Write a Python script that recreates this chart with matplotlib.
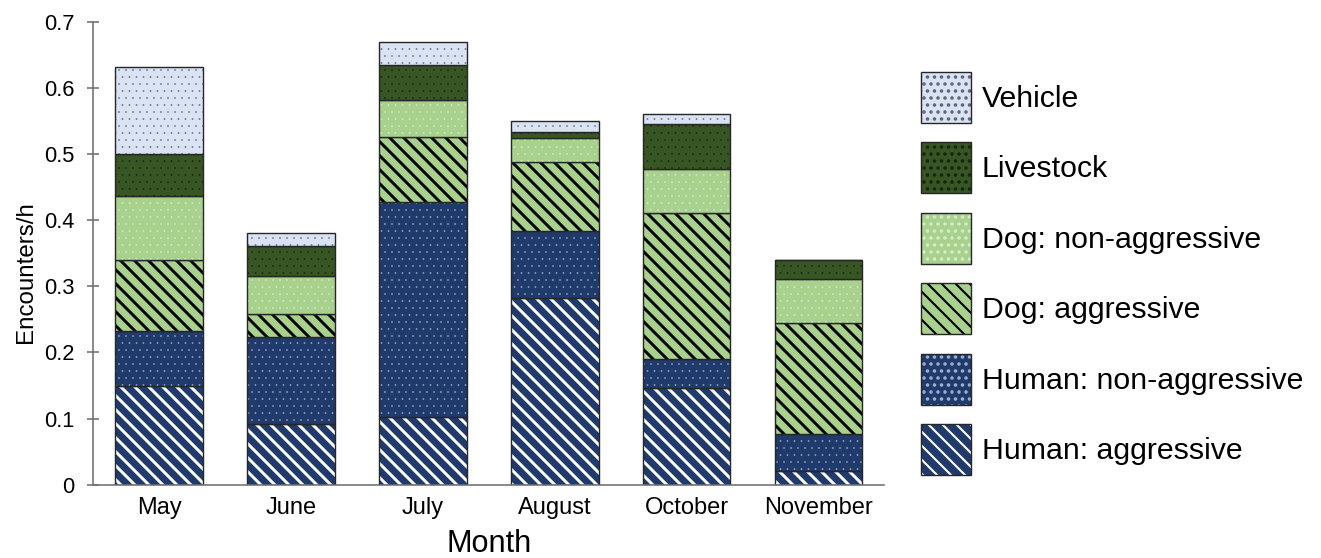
import matplotlib
matplotlib.use("Agg")
import matplotlib.pyplot as plt
import numpy as np
from matplotlib.patches import Patch

plt.rcParams["font.family"] = ["Liberation Sans", "DejaVu Sans"]
plt.rcParams["hatch.linewidth"] = 1.2

months = ["May", "June", "July", "August", "October", "November"]

# encounters per hour (bottom to top)
human_aggressive = [0.149, 0.091, 0.102, 0.282, 0.146, 0.021]
human_non_aggressive = [0.084, 0.133, 0.326, 0.101, 0.044, 0.055]
dog_aggressive = [0.106, 0.034, 0.097, 0.105, 0.221, 0.169]
dog_non_aggressive = [0.097, 0.057, 0.056, 0.036, 0.067, 0.066]
livestock = [0.064, 0.046, 0.054, 0.009, 0.067, 0.029]
vehicle = [0.131, 0.019, 0.035, 0.017, 0.015, 0.0]

NAVY = "#1f3a6b"
LIGHT_GREEN = "#a9d18e"
DARK_GREEN = "#375623"
PALE_BLUE = "#dae3f3"

STRIPES = "\\\\\\"
DOTS = "..."

# label, values, face colour, hatch colour, hatch, hatch linewidth
layers = [
    ("Human: aggressive", human_aggressive, NAVY, "white", STRIPES, 1.7),
    ("Human: non-aggressive", human_non_aggressive, NAVY, "#9fb0d0", DOTS, 0.15),
    ("Dog: aggressive", dog_aggressive, LIGHT_GREEN, "black", STRIPES, 1.7),
    ("Dog: non-aggressive", dog_non_aggressive, LIGHT_GREEN, "#d6ebc8", DOTS, 0.15),
    ("Livestock", livestock, DARK_GREEN, "#16240d", DOTS, 0.15),
    ("Vehicle", vehicle, PALE_BLUE, "#5c6578", DOTS, 0.15),
]


def set_hlw(patch, lw):
    if hasattr(patch, "set_hatch_linewidth"):
        patch.set_hatch_linewidth(lw)


# dpi 126 so the hatch cell (1 inch) gives the reference stripe spacing
DPI = 126
fig = plt.figure(figsize=(1321 / DPI, 558 / DPI), dpi=DPI)
ax = fig.add_axes([0.0706, 0.1314, 0.5989, 0.8297])

x = np.arange(len(months))
width = 0.665
bottom = np.zeros(len(months))
handles = []
for label, vals, face, hcol, hatch, hlw in layers:
    vals = np.array(vals)
    with plt.rc_context({"hatch.linewidth": hlw}):
        bars = ax.bar(x, vals, width, bottom=bottom, color=face, edgecolor=hcol,
                      hatch=hatch, linewidth=0)
        hp = Patch(facecolor=face, edgecolor=hcol, hatch=hatch, linewidth=0)
    for b in bars:
        set_hlw(b, hlw)
    set_hlw(hp, hlw)
    ax.bar(x, vals, width, bottom=bottom, fill=False, edgecolor="#262626",
           linewidth=0.8)
    op = Patch(fill=False, edgecolor="#262626", linewidth=0.8)
    handles.append(((hp, op), label))
    bottom += vals

ax.set_xlim(-0.5, 5.5)
ax.set_ylim(0, 0.7)
ax.set_yticks(np.arange(0, 0.71, 0.1))
ax.set_yticklabels(["0", "0.1", "0.2", "0.3", "0.4", "0.5", "0.6", "0.7"])
ax.set_xticks(x)
ax.set_xticklabels(months)
for s in ["top", "right"]:
    ax.spines[s].set_visible(False)
for s in ["left", "bottom"]:
    ax.spines[s].set_color("#6e6e6e")
    ax.spines[s].set_linewidth(0.9)
ax.tick_params(axis="y", direction="inout", length=7.3, width=0.9,
               color="#6e6e6e", labelsize=12.5, pad=7.0)
ax.tick_params(axis="x", length=0, labelsize=13.5, pad=7.0)
ax.set_ylabel("Encounters/h", fontsize=13.8)
ax.yaxis.set_label_coords(-0.071, 0.46)
ax.set_xlabel("Month", fontsize=17.5)
ax.xaxis.set_label_coords(0.5, -0.096)

handles = handles[::-1]
fig.legend([h for h, _ in handles], [l for _, l in handles],
           loc="upper left", bbox_to_anchor=(0.697, 0.8715),
           frameon=False, fontsize=17.3, handlelength=1.65, handleheight=2.21,
           labelspacing=0.647, handletextpad=0.36, borderpad=0,
           borderaxespad=0)

fig.savefig("out.png", dpi=DPI)
